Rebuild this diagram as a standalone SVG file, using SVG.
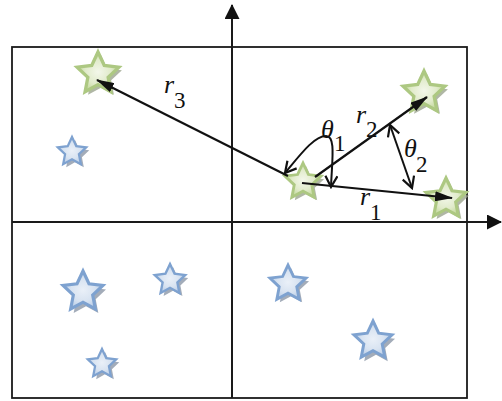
<svg xmlns="http://www.w3.org/2000/svg" xmlns:xlink="http://www.w3.org/1999/xlink" width="502" height="401" viewBox="0 0 502 401">
<style>
.ax{stroke:#1a1a1a;stroke-width:2;fill:none}
.vec{stroke:#111;stroke-width:2.2;fill:none;marker-end:url(#head)}
.ang{stroke:#111;stroke-width:2;fill:none;marker-start:url(#vee);marker-end:url(#vee)}
.t{font-family:"Liberation Serif","Times New Roman",serif;fill:#111}
.it{font-style:italic;font-size:26px}
.sub{font-size:23px}
.gs{fill:url(#gg);stroke:#adc882;stroke-width:0.15;stroke-linejoin:miter}
.gsh{fill:#9ca58e;opacity:0.8}
.bs{fill:url(#bg);stroke:#7ea2d0;stroke-width:0.15;stroke-linejoin:miter}
.bsh{fill:#8c97a8;opacity:0.8}
</style>
<defs>
<path id="star" d="M0,-1 L0.285,-0.392 L0.951,-0.309 L0.461,0.150 L0.588,0.809 L0,0.485 L-0.588,0.809 L-0.461,0.150 L-0.951,-0.309 L-0.285,-0.392 Z"/>
<radialGradient id="gg" cx="0.5" cy="0.5" r="0.5">
<stop offset="0" stop-color="#f3f7ea"/><stop offset="0.6" stop-color="#e1ebcb"/><stop offset="1" stop-color="#c3d99c"/>
</radialGradient>
<radialGradient id="bg" cx="0.5" cy="0.5" r="0.5">
<stop offset="0" stop-color="#eaf0f8"/><stop offset="0.6" stop-color="#d8e3f1"/><stop offset="1" stop-color="#bccfe8"/>
</radialGradient>
<marker id="head" markerUnits="userSpaceOnUse" viewBox="0 0 18 10" refX="17" refY="5" markerWidth="18" markerHeight="10" orient="auto">
<path d="M0,0 L18,5 L0,10 Z" fill="#111"/>
</marker>
<marker id="vee" markerUnits="userSpaceOnUse" viewBox="0 0 14 14" refX="12" refY="7" markerWidth="14" markerHeight="14" orient="auto-start-reverse">
<path d="M1,1 L12,7 L1,13" fill="none" stroke="#111" stroke-width="2.2"/>
</marker>
<marker id="axh" markerUnits="userSpaceOnUse" viewBox="0 0 15 15" refX="14" refY="7.5" markerWidth="15" markerHeight="15" orient="auto">
<path d="M0,0 L15,7.5 L0,15 Z" fill="#111"/>
</marker>
</defs>

<g id="frame">
<rect x="12" y="47" width="455" height="351" fill="none" stroke="#1a1a1a" stroke-width="1.8"/>
</g>
<g id="axes">
<line class="ax" x1="12" y1="222" x2="501" y2="222" marker-end="url(#axh)"/>
<line class="ax" x1="232" y1="398" x2="232" y2="5" marker-end="url(#axh)"/>
</g>

<g id="blue-stars">
<g id="b1"><use xlink:href="#star" class="bsh" transform="translate(75,155) scale(15)"/><use xlink:href="#star" class="bs" transform="translate(72,152) scale(15)"/></g>
<g id="b2"><use xlink:href="#star" class="bsh" transform="translate(86,296) scale(21)"/><use xlink:href="#star" class="bs" transform="translate(83,292) scale(21)"/></g>
<g id="b3"><use xlink:href="#star" class="bsh" transform="translate(173,283) scale(16)"/><use xlink:href="#star" class="bs" transform="translate(170,280) scale(16)"/></g>
<g id="b4"><use xlink:href="#star" class="bsh" transform="translate(105,367) scale(15)"/><use xlink:href="#star" class="bs" transform="translate(102,364) scale(15)"/></g>
<g id="b5"><use xlink:href="#star" class="bsh" transform="translate(291,287) scale(19)"/><use xlink:href="#star" class="bs" transform="translate(288,284) scale(19)"/></g>
<g id="b6"><use xlink:href="#star" class="bsh" transform="translate(376,345) scale(20)"/><use xlink:href="#star" class="bs" transform="translate(373,341) scale(20)"/></g>
</g>

<g id="green-stars">
<g id="g1"><use xlink:href="#star" class="gsh" transform="translate(101,77) scale(22)"/><use xlink:href="#star" class="gs" transform="translate(98,74) scale(22)"/></g>
<g id="g2"><use xlink:href="#star" class="gsh" transform="translate(427,96) scale(22)"/><use xlink:href="#star" class="gs" transform="translate(424,93) scale(22)"/></g>
<g id="g3"><use xlink:href="#star" class="gsh" transform="translate(449,202) scale(21)"/><use xlink:href="#star" class="gs" transform="translate(446,199) scale(21)"/></g>
<g id="g0"><use xlink:href="#star" class="gsh" transform="translate(306,185) scale(19)"/><use xlink:href="#star" class="gs" transform="translate(303,182) scale(19)"/></g>
</g>

<g id="connectors">
<line class="vec" x1="302" y1="183" x2="452" y2="198"/>
<line class="vec" x1="315" y1="177" x2="427" y2="97"/>
<line class="vec" x1="288" y1="176" x2="97" y2="80"/>
<path class="ang" d="M285,173 C300,155 314,136 326,136 C336,136 332,160 331,187"/>
<line class="ang" x1="390" y1="125" x2="412" y2="188"/>
</g>

<g id="labels">
<text class="t" x="164" y="93"><tspan class="it">r</tspan></text>
<text class="t sub" x="174" y="108">3</text>
<text class="t" x="356" y="123"><tspan class="it">r</tspan></text>
<text class="t sub" x="366" y="137">2</text>
<text class="t" x="360" y="205"><tspan class="it">r</tspan></text>
<text class="t sub" x="370" y="220">1</text>
<text class="t" x="321" y="138"><tspan class="it">θ</tspan></text>
<text class="t sub" x="334" y="151">1</text>
<text class="t" x="404" y="157"><tspan class="it">θ</tspan></text>
<text class="t sub" x="416" y="172">2</text>
</g>
</svg>
